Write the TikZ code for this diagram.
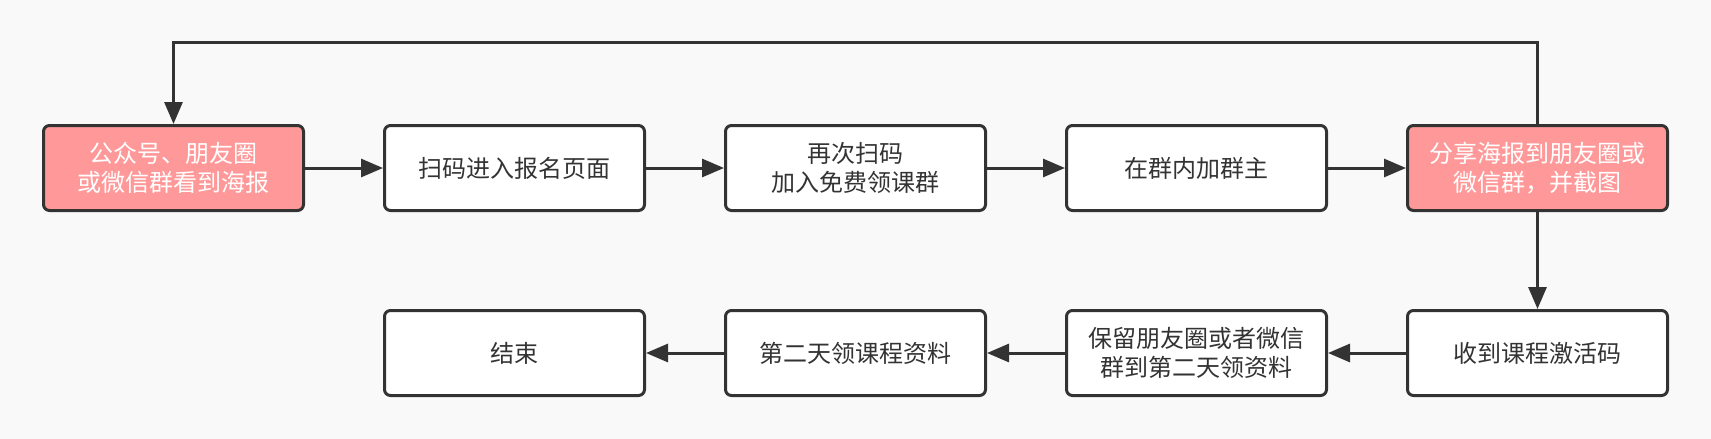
\documentclass[tikz,border=0pt]{standalone}
\usepackage{fontspec}
\setmainfont{Noto Sans CJK SC}
\usetikzlibrary{arrows.meta}
\definecolor{bg}{HTML}{F9F9F9}
\definecolor{edge}{HTML}{333333}
\definecolor{pinkfill}{HTML}{FF9999}
\definecolor{txt}{HTML}{333333}
\tikzset{
  box/.style={draw=edge, line width=3pt, rounded corners=6pt, fill=white,
    minimum width=260pt, minimum height=85pt, align=center, text=txt,
    font=\fontsize{24}{29}\selectfont, inner sep=0pt},
  hot/.style={box, fill=pinkfill, text=white},
  conn/.style={draw=edge, line width=3pt, -{Triangle[length=22pt,width=18pt]}}
}
\begin{document}
\begin{tikzpicture}[x=1pt,y=-1pt]
\fill[bg] (0,0) rectangle (1711,439);
\useasboundingbox (0,0) rectangle (1711,439);
\node[hot] (a) at (173.5,168) {公众号、朋友圈\\或微信群看到海报};
\node[box] (b) at (514.5,168) {扫码进入报名页面};
\node[box] (c) at (855.5,168) {再次扫码\\加入免费领课群};
\node[box] (d) at (1196.5,168) {在群内加群主};
\node[hot] (e) at (1537.5,168) {分享海报到朋友圈或\\微信群，并截图};
\node[box] (f) at (1537.5,353) {收到课程激活码};
\node[box] (g) at (1196.5,353) {保留朋友圈或者微信\\群到第二天领资料};
\node[box] (h) at (855.5,353) {第二天领课程资料};
\node[box] (i) at (514.5,353) {结束};
\coordinate (tr) at (1537.5,42);
\coordinate (tl) at (173.5,42);
\draw[conn] (a) -- (b);
\draw[conn] (b) -- (c);
\draw[conn] (c) -- (d);
\draw[conn] (d) -- (e);
\draw[conn] (e) -- (f);
\draw[conn] (f) -- (g);
\draw[conn] (g) -- (h);
\draw[conn] (h) -- (i);
\draw[conn] (e.north) -- (tr) -- (tl) -- (a.north);
\end{tikzpicture}
\end{document}
